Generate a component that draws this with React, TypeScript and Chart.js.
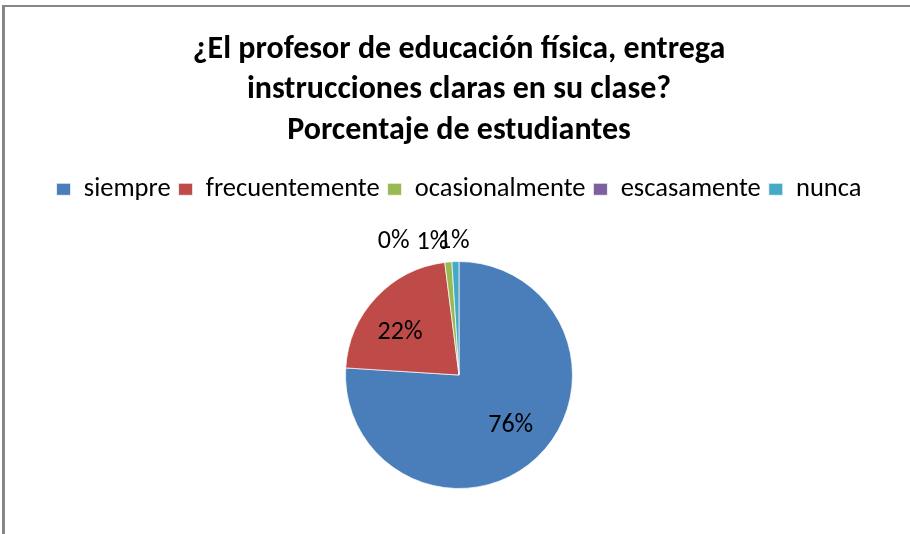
import React, { useEffect, useRef } from "react";
import { Chart, registerables } from "chart.js";

Chart.register(...registerables);

const categories = ["siempre", "frecuentemente", "ocasionalmente", "escasamente", "nunca"];
const percentages = [76, 22, 1, 0, 1];
const sliceColors = ["#4A7EBB", "#BE4B48", "#98B954", "#7D60A0", "#46AAC5"];
const titleLines = [
  "¿El profesor de educación física, entrega",
  "instrucciones claras en su clase?",
  "Porcentaje de estudiantes",
];

const FONT = "Carlito, Lato, 'Noto Sans', sans-serif";

const pieLabels = {
  id: "pieLabels",
  afterDatasetsDraw(chart: any, _args: any, opts: any) {
    const meta = chart.getDatasetMeta(0);
    const ctx = chart.ctx;
    const values = chart.data.datasets[0].data;
    ctx.save();
    ctx.font = `${opts.size}px ${FONT}`;
    ctx.fillStyle = "#000";
    ctx.textAlign = "center";
    ctx.textBaseline = "middle";
    meta.data.forEach((arc: any, i: number) => {
      const { x, y, startAngle, endAngle, outerRadius } = arc.getProps(
        ["x", "y", "startAngle", "endAngle", "outerRadius"],
        true
      );
      const mid = (startAngle + endAngle) / 2;
      const frac = (endAngle - startAngle) / (2 * Math.PI);
      const inside = frac > 0.05;
      const r = inside ? outerRadius * opts.insideFactor : outerRadius + opts.outsideGap;
      const nx = opts.nudgeX[i] || 0;
      const ny = opts.nudgeY[i] || 0;
      ctx.fillText(`${values[i]}%`, x + Math.cos(mid) * r + nx, y + Math.sin(mid) * r + ny);
    });
    ctx.restore();
  },
};

const legendSpacer = {
  id: "legendSpacer",
  beforeLayout(chart: any, _args: any, opts: any) {
    const lg: any = chart.legend;
    if (lg && !lg.__spaced) {
      const orig = lg.fit;
      lg.fit = function () {
        orig.call(this);
        this.height += opts.extra;
      };
      lg.__spaced = true;
    }
  },
};

export default function App() {
  const ref = useRef<HTMLCanvasElement | null>(null);

  useEffect(() => {
    if (!ref.current) return;
    const chart = new Chart(ref.current, {
      type: "pie",
      data: {
        labels: categories,
        datasets: [
          {
            data: percentages,
            backgroundColor: sliceColors,
            borderColor: "rgba(255,255,255,0.7)",
            borderWidth: 1,
          },
        ],
      },
      options: {
        responsive: false,
        animation: false,
        events: [],
        layout: { padding: { left: 8, right: 0, top: 0, bottom: 45 } },
        plugins: {
          title: {
            display: true,
            text: titleLines,
            color: "#000",
            font: { family: FONT, size: 32, weight: "bold", lineHeight: 1.266 },
            padding: { top: 29.25, bottom: 17.25 },
          },
          legend: {
            display: true,
            position: "top",
            labels: {
              boxWidth: 14,
              boxHeight: 12,
              padding: 8,
              color: "#000",
              font: { family: FONT, size: 26.5 },
            },
          },
          tooltip: { enabled: false },
          legendSpacer: { extra: 48.5 },
          pieLabels: {
            size: 26,
            insideFactor: 0.64,
            outsideGap: 20,
            nudgeX: [2, -6, -14, -57, -1],
            nudgeY: [-2, 7, 0, 0, 0],
          },
        } as any,
      },
      plugins: [legendSpacer, pieLabels],
    });
    return () => chart.destroy();
  }, []);

  return (
    <div style={{ position: "absolute", left: 0, top: 0, width: 910, height: 534, background: "#fff", overflow: "hidden" }}>
      <div
        style={{
          position: "absolute",
          left: 2,
          top: 5,
          width: 920,
          height: 600,
          borderTop: "2px solid #878787",
          borderLeft: "3px solid #878787",
        }}
      />
      <canvas
        ref={ref}
        width={910}
        height={534}
        style={{ position: "absolute", left: 0, top: 0, width: 910, height: 534 }}
      />
    </div>
  );
}
